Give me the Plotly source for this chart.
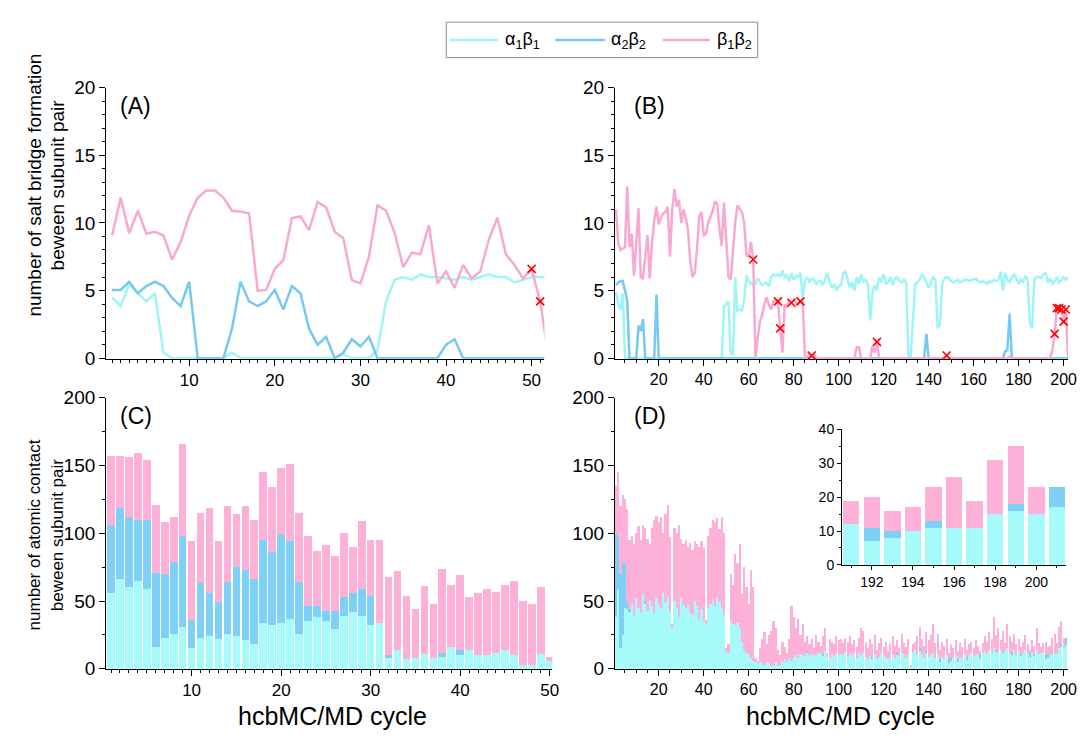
import plotly.graph_objects as go

FONT = "Liberation Sans, Arial, sans-serif"
C_CYAN = "#A6FAFA"
C_BLUE = "#7FD0F7"
C_PINK = "#FDB0D8"
LINE_CYAN = "#9FF5F5"
LINE_BLUE = "#78C8F2"
LINE_PINK = "#F9A8D2"

# ---------------- Panel A: salt bridges, cycles 1..52 ----------------
a_x = list(range(1, 53))
a_a1b1 = [4.5, 3.85, 5.5, 4.8, 4.2, 4.8, 0.4, 0, 0, 0,
          0, 0, 0, 0, 0.4, 0, 0, 0, 0, 0,
          0, 0, 0, 0, 0, 0, 0, 0.3, 0, 0,
          0, 0.6, 4.2, 5.8, 6.0, 5.8, 6.2, 6.0, 6.0, 5.9,
          5.8, 6.0, 5.8, 6.0, 6.2, 6.0, 6.0, 5.6, 5.8, 6.0,
          6.0, 5.9]
a_a2b2 = [5.05, 5.05, 5.65, 4.8, 5.33, 5.65, 5.33, 4.45, 3.85, 5.65,
          0, 0, 0, 0, 2.18, 5.65, 4.2, 3.85, 4.2, 5.05,
          3.6, 5.33, 4.8, 2.18, 1.0, 1.58, 0, 0.4, 1.4, 0.86,
          1.58, 0, 0, 0, 0, 0, 0, 0, 0, 1.0,
          1.4, 0, 0, 0, 0, 0, 0, 0, 0, 0,
          0, 0]
a_b1b2 = [9.07, 11.87, 9.23, 10.9, 9.2, 9.35, 9.07, 7.3, 8.56, 10.55,
          11.87, 12.4, 12.4, 11.87, 10.9, 10.84, 10.7, 4.98, 5.05, 6.6,
          7.25, 10.36, 10.48, 9.47, 11.55, 11.15, 9.35, 8.88, 5.77, 5.53,
          7.49, 11.3, 10.9, 9.28, 6.72, 7.8, 7.68, 9.83, 5.53, 6.41,
          5.2, 6.89, 5.89, 6.41, 8.76, 10.38, 7.68, 6.89, 5.89, 6.6,
          4.2, 0]
a_mark_x = [50, 51]
a_mark_y = [6.6, 4.2]

# ---------------- Panel B: salt bridges, cycles 1..202 ----------------
b_x = list(range(1, 203))
b_a1b1 = [4.9, 4.0, 3.6, 4.8, 0, 0, 0, 0, 0, 0,
          0, 0, 0, 0, 0, 0, 0, 0, 0, 0,
          0, 0, 0, 0, 0, 0, 0, 0, 0, 0,
          0, 0, 0, 0, 0, 0, 0, 0, 0, 0,
          0, 0, 0, 0, 0, 0, 0, 0, 3.8, 4.0,
          4.2, 0.3, 0.3, 6.0, 3.5, 3.6, 3.5, 4.3, 6.1, 5.7,
          5.5, 5.4, 5.5, 5.9, 5.6, 5.4, 5.5, 5.6, 5.3, 6.0,
          6.2, 6.1, 6.2, 6.0, 6.5, 5.9, 6.2, 5.7, 6.3, 5.8,
          6.1, 6.0, 6.3, 4.5, 5.7, 6.0, 5.6, 5.9, 5.8, 5.5,
          5.7, 5.7, 5.4, 5.8, 6.3, 5.6, 5.2, 5.5, 5.0, 5.3,
          5.4, 6.3, 6.4, 5.8, 5.2, 5.6, 5.0, 6.0, 5.5, 6.2,
          5.6, 5.8, 5.5, 2.8, 4.8, 5.4, 5.0, 6.0, 5.6, 6.2,
          5.5, 5.6, 6.0, 5.4, 5.9, 6.0, 5.7, 5.6, 5.8, 5.6,
          0.2, 0.0, 3.0, 5.5, 5.6, 5.8, 6.2, 6.0, 5.6, 5.2,
          5.6, 6.0, 5.8, 2.3, 2.4, 5.5, 5.9, 6.0, 5.9, 5.7,
          5.6, 5.7, 5.8, 5.6, 5.7, 5.8, 5.8, 5.7, 5.8, 5.8,
          5.9, 5.7, 5.6, 5.7, 5.6, 5.5, 5.7, 5.6, 5.8, 5.7,
          5.8, 6.4, 5.0, 6.3, 5.8, 5.6, 6.0, 6.2, 5.9, 5.5,
          5.8, 5.6, 6.1, 5.8, 2.6, 2.2, 5.8, 6.0, 6.0, 5.9,
          6.2, 6.3, 5.6, 5.9, 5.5, 5.7, 6.0, 5.6, 5.8, 6.0,
          5.8, 6.0]
b_a2b2 = [5.4, 5.6, 5.7, 5.7, 5.0, 4.2, 0, 0, 0, 0,
          2.4, 2.0, 2.9, 0, 0, 0, 0, 0, 4.7, 0,
          0, 0, 0, 0, 0, 0, 0, 0, 0, 0,
          0, 0, 0, 0, 0, 0, 0, 0, 0, 0,
          0, 0, 0, 0, 0, 0, 0, 0, 0, 0,
          0, 0, 0, 0, 0, 0, 0, 0, 0, 0,
          0, 0, 0, 0, 0, 0, 0, 0, 0, 0,
          0, 0, 0, 0, 0, 0, 0, 0, 0, 0,
          0, 0, 0, 0, 0, 0, 0, 0, 0, 0,
          0, 0, 0, 0, 0, 0, 0, 0, 0, 0,
          0, 0, 0, 0, 0, 0, 0, 0, 0, 0,
          0, 0, 0, 0, 0, 0, 0, 0, 0, 0,
          0, 0, 0, 0, 0, 0, 0, 0, 0, 0,
          0, 0, 0, 0, 0, 0, 0, 0, 1.8, 0,
          0, 0, 0, 0, 0, 0, 0, 0, 0, 0,
          0, 0, 0, 0, 0, 0, 0, 0, 0, 0,
          0, 0, 0, 0, 0, 0, 0, 0, 0, 0,
          0, 0, 0, 0.5, 0.6, 3.3, 0, 0, 0, 0,
          0, 0, 0, 0, 0, 0, 0, 0, 0, 0,
          0, 0, 0, 0, 0, 0, 0, 0, 0, 0,
          0, 0]
b_b1b2 = [11.0, 8.5, 8.0, 8.1, 8.2, 12.7, 8.2, 9.2, 6.1, 8.5,
          11.1, 6.0, 5.9, 7.5, 9.1, 5.9, 8.5, 10.2, 11.2, 9.9,
          10.4, 10.7, 10.8, 11.2, 7.5, 11.0, 12.5, 11.2, 11.7, 10.0,
          11.0, 10.4, 9.5, 7.2, 6.0, 6.3, 8.0, 10.5, 10.8, 9.1,
          9.2, 10.0, 10.4, 10.9, 11.6, 11.4, 9.5, 8.3, 11.5, 8.3,
          6.0, 5.8, 8.0, 10.0, 11.3, 11.0, 10.8, 10.0, 7.6, 7.5,
          8.6, 7.3, 0.0, 1.5, 2.7, 3.2, 4.0, 4.5, 3.9, 3.6,
          4.2, 4.3, 4.2, 2.2, 0.4, 4.0, 3.8, 4.2, 4.1, 4.3,
          4.1, 4.0, 4.2, 4.2, 0.2, 0.0, 0.3, 0.2, 0.3, 0,
          0, 0, 0, 0, 0, 0, 0, 0, 0, 0,
          0, 0, 0, 0, 0, 0, 0, 0.8, 0.8, 0,
          0, 0, 0, 0, 0.9, 0.4, 1.2, 0, 0, 0,
          0, 0, 0, 0, 0, 0, 0, 0, 0, 0,
          0, 0, 0, 0, 0, 0, 0, 0, 0, 0,
          0, 0, 0, 0, 0, 0, 0, 0.2, 0, 0,
          0, 0, 0, 0, 0, 0, 0, 0, 0, 0,
          0, 0, 0, 0, 0, 0, 0, 0, 0, 0,
          0, 0, 0, 0, 0, 0.1, 0, 0, 0, 0,
          0, 0, 0, 0, 0, 0, 0, 0, 0, 0,
          0, 0, 0, 0, 0.6, 1.8, 3.7, 3.7, 3.6, 2.7,
          3.6, 0]
b_mark_x = [62, 73, 74, 79, 83, 88, 117, 148, 196, 197, 198, 199, 200, 201]
b_mark_y = [7.3, 4.2, 2.2, 4.1, 4.2, 0.2, 1.2, 0.2, 1.8, 3.7, 3.7, 3.6, 2.7, 3.6]

# ---------------- Panel C: atomic contacts, cycles 1..50 ----------------
c_x = list(range(1, 51))
c_a1b1 = [56, 66, 60, 65, 59, 16, 23, 26, 31, 15,
          23, 24, 22, 26, 24, 21, 18, 34, 32, 34,
          37, 26, 35, 38, 35, 29, 39, 42, 39, 32,
          34, 8, 14, 7, 8, 11, 8, 9, 16, 10,
          14, 10, 10, 12, 14, 10, 3, 3, 11, 6]
c_a2b2 = [50, 53, 52, 45, 51, 55, 47, 53, 67, 21,
          40, 32, 27, 38, 51, 52, 48, 61, 54, 65,
          57, 38, 11, 8, 8, 14, 14, 14, 20, 22,
          0, 2, 0, 0, 0, 0, 0, 3, 0, 4,
          0, 0, 0, 0, 0, 0, 0, 0, 0, 0]
c_b1b2 = [51, 38, 44, 49, 44, 50, 38, 33, 68, 58,
          52, 63, 45, 56, 39, 47, 44, 50, 48, 49,
          57, 51, 52, 41, 48, 40, 47, 34, 50, 41,
          61, 58, 58, 47, 36, 50, 40, 62, 46, 55,
          39, 46, 49, 45, 48, 55, 47, 45, 49, 3]

# ---------------- Panel D: atomic contacts, cycles 1..201 ----------------
d_x = list(range(1, 202))
d_a1b1 = [38, 58, 15, 25, 45, 44, 42, 48, 40, 52,
          45, 42, 55, 48, 43, 50, 46, 41, 52, 47,
          44, 56, 49, 53, 43, 30, 50, 45, 38, 52,
          47, 44, 48, 42, 40, 50, 46, 36, 44, 35,
          33, 45, 48, 50, 46, 52, 49, 45, 40, 14,
          12, 35, 33, 32, 34, 30, 20, 14, 12, 10,
          8, 6, 5, 4, 6, 4, 3, 5, 4, 2,
          3, 5, 2, 3, 6, 7, 5, 8, 6, 9,
          10, 8, 11, 10, 9, 12, 10, 11, 9, 10,
          12, 11, 10, 13, 9, 8, 10, 9, 11, 10,
          11, 10, 12, 9, 11, 10, 12, 8, 11, 10,
          12, 9, 7, 10, 8, 11, 7, 9, 12, 10,
          8, 7, 9, 10, 8, 11, 9, 12, 10, 8,
          10, 2, 12, 14, 11, 13, 10, 8, 12, 9,
          10, 12, 8, 11, 5, 9, 7, 10, 4, 6,
          8, 10, 5, 9, 8, 11, 7, 10, 12, 9,
          11, 10, 8, 12, 13, 11, 14, 12, 15, 13,
          12, 14, 11, 13, 15, 12, 10, 14, 11, 13,
          10, 12, 14, 11, 9, 12, 10, 14, 11, 12,
          12, 7, 8, 10, 11, 11, 11, 15, 16, 15, 17]
d_a2b2 = [62, 40, 55, 53, 33, 6, 2, 0, 0, 0,
          0, 0, 0, 2, 0, 0, 0, 0, 0, 0,
          0, 0, 0, 0, 0, 0, 0, 0, 0, 0,
          0, 0, 0, 0, 0, 0, 0, 0, 0, 0,
          0, 0, 0, 0, 0, 0, 0, 0, 0, 0,
          0, 0, 0, 0, 0, 0, 0, 0, 0, 0,
          0, 0, 0, 0, 0, 0, 0, 0, 0, 0,
          0, 0, 0, 0, 0, 0, 0, 0, 0, 0,
          0, 0, 0, 0, 0, 1, 0, 0, 0, 0,
          0, 0, 1, 0, 0, 0, 0, 0, 0, 0,
          0, 0, 0, 0, 0, 0, 0, 0, 0, 0,
          0, 0, 0, 0, 1, 0, 0, 0, 0, 0,
          0, 0, 0, 0, 0, 1, 0, 0, 0, 0,
          0, 0, 0, 0, 0, 2, 0, 0, 1, 0,
          0, 0, 0, 0, 2, 0, 0, 0, 3, 2,
          0, 0, 2, 0, 0, 0, 1, 0, 0, 0,
          0, 0, 2, 0, 0, 0, 0, 0, 0, 1,
          0, 0, 0, 0, 0, 0, 2, 0, 0, 0,
          1, 0, 0, 0, 2, 0, 1, 0, 0, 0,
          0, 4, 2, 0, 2, 0, 0, 0, 2, 0, 6]
d_total = [135, 145, 120, 128, 125, 118, 95, 98, 92, 100,
           105, 95, 106, 104, 96, 92, 104, 110, 113, 108,
           112, 100, 114, 121, 97, 33, 104, 100, 106, 96,
           92, 95, 90, 93, 88, 94, 92, 90, 94, 89,
           36, 98, 104, 110, 108, 111, 103, 112, 100, 15,
           18, 70, 62, 85, 78, 92, 55, 75, 60, 48,
           73, 60, 8, 6, 15, 22, 27, 18, 25, 28,
           35, 30, 14, 10, 20, 16, 12, 22, 46, 38,
           30, 37, 25, 33, 20, 24, 18, 22, 15, 25,
           20, 17, 24, 30, 12, 22, 20, 18, 24, 21,
           22, 19, 23, 20, 24, 18, 21, 16, 23, 30,
           28, 20, 15, 22, 18, 25, 14, 19, 23, 16,
           20, 13, 18, 24, 17, 21, 15, 26, 19, 16,
           22, 3, 18, 20, 24, 31, 22, 17, 27, 21,
           25, 33, 19, 26, 14, 20, 17, 22, 12, 18,
           15, 21, 13, 19, 16, 22, 14, 18, 20, 15,
           21, 17, 13, 19, 24, 20, 27, 22, 38, 25,
           30, 21, 28, 19, 33, 24, 20, 26, 18, 22,
           16, 20, 25, 18, 14, 21, 17, 30, 19, 16,
           19, 20, 16, 17, 23, 26, 19, 31, 35, 23, 23]
d_b1b2 = [t - c - b for t, c, b in zip(d_total, d_a1b1, d_a2b2)]

# inset: last cycles
inset_x = list(range(191, 202))
inset_a1b1 = d_a1b1[-11:]
inset_a2b2 = d_a2b2[-11:]
inset_b1b2 = d_b1b2[-11:]

legend_names = ["α<sub>1</sub>β<sub>1</sub>", "α<sub>2</sub>β<sub>2</sub>", "β<sub>1</sub>β<sub>2</sub>"]

W, H = 1089, 742


def px(x0, x1):
    return [x0 / W, x1 / W]


def py(top, bottom):
    return [(H - bottom) / H, (H - top) / H]


fig = go.Figure()

XMARK = dict(symbol="x-thin", size=8, color="red", line=dict(color="red", width=1.6))

for ys, col, nm in [(a_a1b1, LINE_CYAN, legend_names[0]), (a_a2b2, LINE_BLUE, legend_names[1]),
                    (a_b1b2, LINE_PINK, legend_names[2])]:
    fig.add_trace(go.Scatter(x=a_x, y=ys, mode="lines", line=dict(color=col, width=2.5),
                             name=nm, xaxis="x", yaxis="y", showlegend=False))
fig.add_trace(go.Scatter(x=a_mark_x, y=a_mark_y, mode="markers", xaxis="x", yaxis="y",
                         marker=XMARK, showlegend=False, cliponaxis=False))
for ys, col in [(b_a1b1, LINE_CYAN), (b_a2b2, LINE_BLUE), (b_b1b2, LINE_PINK)]:
    fig.add_trace(go.Scatter(x=b_x, y=ys, mode="lines", line=dict(color=col, width=2.5),
                             xaxis="x2", yaxis="y2", showlegend=False))
fig.add_trace(go.Scatter(x=b_mark_x, y=b_mark_y, mode="markers", xaxis="x2", yaxis="y2",
                         marker=XMARK, showlegend=False, cliponaxis=False))
for ys, col in [(c_a1b1, C_CYAN), (c_a2b2, C_BLUE), (c_b1b2, C_PINK)]:
    fig.add_trace(go.Bar(x=c_x, y=ys, width=0.85, marker=dict(color=col, line=dict(width=0)),
                         xaxis="x3", yaxis="y3", showlegend=False))
for ys, col in [(d_a1b1, C_CYAN), (d_a2b2, C_BLUE), (d_b1b2, C_PINK)]:
    fig.add_trace(go.Bar(x=d_x, y=ys, width=0.95, marker=dict(color=col, line=dict(width=0)),
                         xaxis="x4", yaxis="y4", showlegend=False))
for ys, col in [(inset_a1b1, C_CYAN), (inset_a2b2, C_BLUE), (inset_b1b2, C_PINK)]:
    fig.add_trace(go.Bar(x=inset_x, y=ys, width=0.8, marker=dict(color=col, line=dict(width=0)),
                         xaxis="x5", yaxis="y5", showlegend=False))


def axis(domain, rng, dtick, minor_dtick, anchor, size=15, tick0=0, ticklen=6, mlen=3):
    return dict(domain=domain, range=rng, dtick=dtick, tick0=tick0, anchor=anchor,
                showline=True, linecolor="black", linewidth=1, ticks="outside",
                ticklen=ticklen, tickwidth=1, tickcolor="black", showgrid=False, zeroline=False,
                tickfont=dict(family=FONT, size=size, color="black"),
                minor=dict(ticks="outside", ticklen=mlen, tickcolor="black", dtick=minor_dtick,
                           showgrid=False, tick0=tick0),
                layer="below traces", fixedrange=True)


fig.update_layout(
    width=W, height=H, margin=dict(l=0, r=0, t=0, b=0),
    paper_bgcolor="white", plot_bgcolor="rgba(0,0,0,0)",
    barmode="stack", font=dict(family=FONT, color="black"), showlegend=False,
    xaxis=axis(px(107, 549), [0.3, 51.5], 10, 1, "y", size=17),
    yaxis=axis(py(80, 359), [-0.05, 20], 5, 1, "x", size=19),
    xaxis2=axis(px(620, 1077), [0.5, 202], 20, 5, "y2", size=16),
    yaxis2=axis(py(80, 359), [-0.05, 20], 5, 1, "x2", size=19),
    xaxis3=axis(px(107, 557), [0.45, 50.3], 10, 1, "y3", size=17),
    yaxis3=axis(py(399, 678), [0, 200], 50, 25, "x3", size=19),
    xaxis4=axis(px(620, 1077), [0.5, 202], 20, 5, "y4", size=16),
    yaxis4=axis(py(399, 678), [0, 200], 50, 25, "x4", size=19),
    xaxis5=axis(px(849, 1075), [190.55, 201.45], 2, 1, "y5", size=14, ticklen=4, mlen=2),
    yaxis5=axis(py(431.7, 571), [0, 40], 10, 5, "x5", size=14, ticklen=4, mlen=2),
)

ann = []
shapes = []
shapes.append(dict(type="rect", xref="paper", yref="paper", x0=450 / W, x1=764 / W,
                   y0=1 - 49 / H, y1=1 - 12.5 / H, line=dict(color="#8c8c8c", width=1),
                   fillcolor="white"))
for (lx0, lx1, tx), col, nm in zip([(453, 502, 507), (560, 610, 614), (668, 716, 721)],
                                   [LINE_CYAN, LINE_BLUE, LINE_PINK], legend_names):
    shapes.append(dict(type="line", xref="paper", yref="paper", x0=lx0 / W, x1=lx1 / W,
                       y0=1 - 31 / H, y1=1 - 31 / H, line=dict(color=col, width=2.5)))
    ann.append(dict(text=nm, x=tx / W, y=1 - 31 / H, xref="paper", yref="paper",
                    xanchor="left", yanchor="middle", showarrow=False,
                    font=dict(family=FONT, size=18, color="black")))

for lbl, x0, yc in [("(A)", 119, 99), ("(B)", 637, 99), ("(C)", 119, 418), ("(D)", 637, 418)]:
    ann.append(dict(text=lbl, x=x0 / W, y=1 - yc / H, xref="paper", yref="paper",
                    xanchor="left", yanchor="middle", showarrow=False,
                    font=dict(family=FONT, size=23, color="black")))

for txt, xc, yc, fs in [("number of salt bridge formation", 35, 180, 19),
                        ("beween subunit pair", 58, 180, 19),
                        ("number of atomic contact", 35, 540, 17),
                        ("beween subunit pair", 58, 540, 17)]:
    ann.append(dict(text=txt, textangle=-90, x=xc / W, y=1 - yc / H, xref="paper", yref="paper",
                    xanchor="center", yanchor="middle", showarrow=False,
                    font=dict(family=FONT, size=fs, color="black")))
for xc in [335, 847]:
    ann.append(dict(text="hcbMC/MD cycle", x=xc / W, y=1 - 727 / H, xref="paper", yref="paper",
                    xanchor="center", yanchor="middle", showarrow=False,
                    font=dict(family=FONT, size=25, color="black")))
fig.update_layout(annotations=ann, shapes=shapes)

fig.write_html("out.html", post_script="document.body.style.margin='0px';")
